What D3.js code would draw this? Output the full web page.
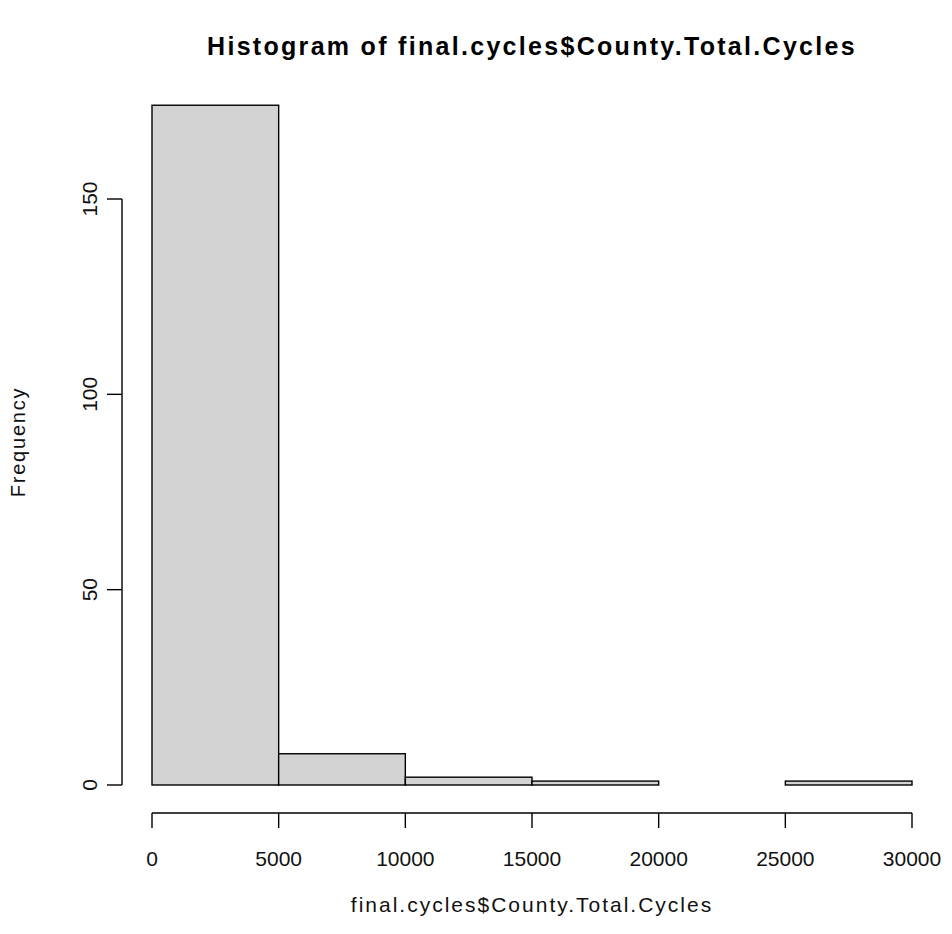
<!DOCTYPE html>
<html>
<head>
<meta charset="utf-8">
<script src="https://cdn.jsdelivr.net/npm/d3@7"></script>
<style>
  html, body { margin: 0; padding: 0; background: #fff; }
  svg { display: block; font-family: "Liberation Sans", Arial, sans-serif; }
</style>
</head>
<body>
<svg id="chart" width="952" height="934"></svg>
<script>
// Histogram bins (lower/upper edges) and counts
const binStarts = [0, 5000, 10000, 15000, 20000, 25000];
const binEnds = [5000, 10000, 15000, 20000, 25000, 30000];
const counts = [174, 8, 2, 1, 0, 1];
const xTicks = [0, 5000, 10000, 15000, 20000, 25000, 30000];
const yTicks = [0, 50, 100, 150];

const titleText = "Histogram of final.cycles$County.Total.Cycles";
const xLabel = "final.cycles$County.Total.Cycles";
const yLabel = "Frequency";

const svg = d3.select("#chart");

const x = d3.scaleLinear().domain([0, 30000]).range([152, 912]);
const y = d3.scaleLinear().domain([0, 150]).range([785, 199]);
const midX = (x(0) + x(30000)) / 2;

// bars
svg.append("g")
  .selectAll("rect")
  .data(counts)
  .join("rect")
  .attr("x", (d, i) => x(binStarts[i]))
  .attr("width", (d, i) => x(binEnds[i]) - x(binStarts[i]))
  .attr("y", d => y(d))
  .attr("height", d => y(0) - y(d))
  .attr("fill", "#d3d3d3")
  .attr("stroke", "#000")
  .attr("stroke-width", 1.4);

// x axis (offset below the bars, R style)
const xAxis = svg.append("g").attr("transform", "translate(0,813)");
xAxis.append("line")
  .attr("x1", x(xTicks[0])).attr("x2", x(xTicks[xTicks.length - 1]))
  .attr("y1", 0).attr("y2", 0)
  .attr("stroke", "#000").attr("stroke-width", 1.4);
xAxis.selectAll("line.tick")
  .data(xTicks)
  .join("line")
  .attr("class", "tick")
  .attr("x1", d => x(d)).attr("x2", d => x(d))
  .attr("y1", 0).attr("y2", 15)
  .attr("stroke", "#000").attr("stroke-width", 1.4);
xAxis.selectAll("text")
  .data(xTicks)
  .join("text")
  .attr("x", d => x(d))
  .attr("y", 53)
  .attr("text-anchor", "middle")
  .attr("font-size", 21)
  .attr("fill", "#111")
  .text(d => d);

// y axis
const yAxis = svg.append("g").attr("transform", "translate(122,0)");
yAxis.append("line")
  .attr("x1", 0).attr("x2", 0)
  .attr("y1", y(yTicks[0])).attr("y2", y(yTicks[yTicks.length - 1]))
  .attr("stroke", "#000").attr("stroke-width", 1.4);
yAxis.selectAll("line.tick")
  .data(yTicks)
  .join("line")
  .attr("class", "tick")
  .attr("x1", 0).attr("x2", -15)
  .attr("y1", d => y(d)).attr("y2", d => y(d))
  .attr("stroke", "#000").attr("stroke-width", 1.4);
yAxis.selectAll("text")
  .data(yTicks)
  .join("text")
  .attr("transform", d => `translate(-25,${y(d)}) rotate(-90)`)
  .attr("text-anchor", "middle")
  .attr("font-size", 21)
  .attr("fill", "#111")
  .text(d => d);

// title
svg.append("text")
  .attr("x", midX)
  .attr("y", 55)
  .attr("text-anchor", "middle")
  .attr("font-size", 25)
  .attr("font-weight", "bold")
  .attr("letter-spacing", 2.3)
  .attr("fill", "#000")
  .text(titleText);

// axis labels
svg.append("text")
  .attr("x", midX)
  .attr("y", 912)
  .attr("text-anchor", "middle")
  .attr("font-size", 21)
  .attr("letter-spacing", 2)
  .attr("fill", "#111")
  .text(xLabel);

svg.append("text")
  .attr("transform", `translate(25,442) rotate(-90)`)
  .attr("text-anchor", "middle")
  .attr("font-size", 20)
  .attr("letter-spacing", 1.8)
  .attr("fill", "#111")
  .text(yLabel);
</script>
</body>
</html>
